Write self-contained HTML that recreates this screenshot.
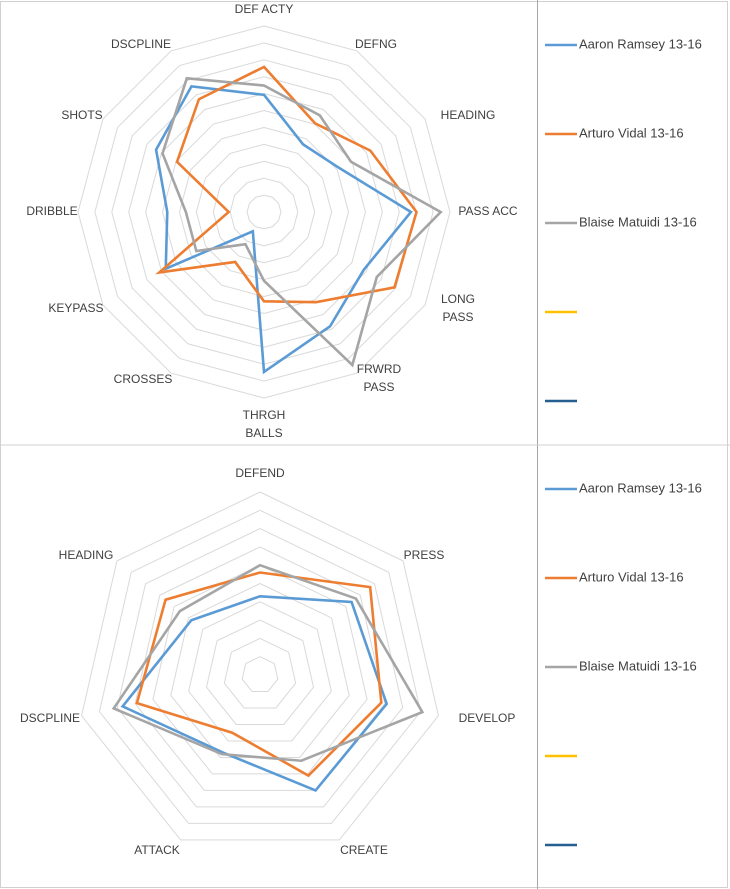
<!DOCTYPE html>
<html><head><meta charset="utf-8"><style>
body{margin:0;background:#fff;width:730px;height:889px;overflow:hidden;font-family:"Liberation Sans",sans-serif}
svg{position:absolute;left:0;top:0}
text{font-family:"Liberation Sans",sans-serif;fill:#404040}
</style></head><body>
<svg id="s" width="730" height="889">
<rect x="0.5" y="1.5" width="727" height="886" fill="#fff" stroke="#d0d0d0"/>
<line x1="537.5" y1="0" x2="537.5" y2="889" stroke="#a6a6a6"/>
<line x1="0" y1="445" x2="730" y2="445" stroke="#d0d0d0"/>
</svg>
<script>
const topCategories=["DEF ACTY","DEFNG","HEADING","PASS ACC","LONG PASS","FRWRD PASS","THRGH BALLS","CROSSES","KEYPASS","DRIBBLE","SHOTS","DSCPLINE"];
const topRamsey=[0.63,0.42,0.47,0.79,0.62,0.71,0.86,0.12,0.61,0.52,0.67,0.78];
const topVidal=[0.78,0.55,0.66,0.82,0.81,0.56,0.48,0.31,0.65,0.19,0.54,0.70];
const topMatuidi=[0.68,0.60,0.54,0.95,0.70,0.95,0.37,0.20,0.42,0.42,0.63,0.83];
const botCategories=["DEFEND","PRESS","DEVELOP","CREATE","ATTACK","DSCPLINE","HEADING"];
const botRamsey=[0.43,0.64,0.71,0.70,0.47,0.77,0.48];
const botVidal=[0.56,0.77,0.68,0.61,0.35,0.69,0.66];
const botMatuidi=[0.60,0.67,0.91,0.52,0.48,0.82,0.56];
const seriesNames=["Aaron Ramsey 13-16","Arturo Vidal 13-16","Blaise Matuidi 13-16","",""];
const NS="http://www.w3.org/2000/svg";
const svg=document.getElementById('s');
const colors=["#5B9BD5","#ED7D31","#A5A5A5","#FFC000","#255E91"];
function mk(t,a){const e=document.createElementNS(NS,t);for(const k in a)e.setAttribute(k,a[k]);svg.appendChild(e);return e;}
function radar(cx,cy,R,rings,cats,series,labelPos,prefix){
  const n=cats.length;
  const pt=(i,f)=>{const a=i*2*Math.PI/n;return [cx+Math.sin(a)*R*f,cy-Math.cos(a)*R*f];};
  for(let r=1;r<=rings;r++){
    const p=[];for(let i=0;i<n;i++)p.push(pt(i,r/rings).join(','));
    const g=mk('polygon',{points:p.join(' '),fill:'none',stroke:'#d9d9d9','stroke-width':1});
    
    
  }
  series.forEach((vals,si)=>{
    const p=vals.map((v,i)=>pt(i,v).join(','));
    const pl=mk('polygon',{points:p.join(' '),fill:'none',stroke:colors[si],'stroke-width':2.6,'stroke-linejoin':'miter'});
    
    
  });
  cats.forEach((c,i)=>{
    const [x,y]=labelPos[i];
    const lines=c.split('|');
    lines.forEach((ln,j)=>{
      const t=mk('text',{x:x,y:y+j*18,'font-size':12,'text-anchor':'middle','dominant-baseline':'middle'});
      t.textContent=ln;
      
      
    });
  });
}
const topLabels=[[264,10],[376,45],[468,116],[488,212],[458,300],[379,370],[264,416],[143,380],[76,309],[52,212],[82,116],[141,45]];
const topCatsDisp=["DEF ACTY","DEFNG","HEADING","PASS ACC","LONG|PASS","FRWRD|PASS","THRGH|BALLS","CROSSES","KEYPASS","DRIBBLE","SHOTS","DSCPLINE"];
radar(264,212,186,11,topCatsDisp,[topRamsey,topVidal,topMatuidi],topLabels,'top');
const botLabels=[[260,474],[424,556],[487,719],[364,851],[157,851],[50,719],[86,556]];
radar(260,675,183,10,botCategories,[botRamsey,botVidal,botMatuidi],botLabels,'bottom');
[0,444].forEach((off,pi)=>{
  seriesNames.forEach((nm,i)=>{
    const y=45+i*89+off;
    const l=mk('line',{x1:545,y1:y,x2:577,y2:y,stroke:colors[i],'stroke-width':2.6});
    
    
    if(nm){
      const t=mk('text',{x:579,y:y,'font-size':13,'dominant-baseline':'middle'});
      t.textContent=nm;
      
      
    }
  });
});
</script>
</body></html>
